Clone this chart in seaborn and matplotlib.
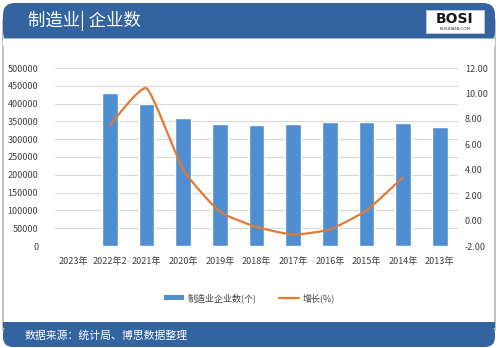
import numpy as np
import pandas as pd
import matplotlib
matplotlib.use("Agg")
import matplotlib.pyplot as plt
from matplotlib.path import Path
from matplotlib.patches import PathPatch, FancyBboxPatch, Rectangle
from matplotlib.lines import Line2D
import seaborn as sns

# ---- data ----
categories = ["2023年", "2022年2", "2021年", "2020年", "2019年", "2018年",
              "2017年", "2016年", "2015年", "2014年", "2013年"]
firms = [np.nan, 430000, 399000, 360000, 343000, 340000, 343000, 347000, 347000, 345000, 334000]
growth_cats = ["2022年2", "2021年", "2020年", "2019年", "2018年", "2017年", "2016年", "2015年", "2014年"]
growth = [7.5, 10.4, 4.0, 0.7, -0.5, -1.1, -0.7, 0.8, 3.4]
left_ticks = [0, 50000, 100000, 150000, 200000, 250000, 300000, 350000, 400000, 450000, 500000]
right_ticks = [-2, 0, 2, 4, 6, 8, 10, 12]
title = "制造业| 企业数"
bar_label = "制造业企业数(个)"
line_label = "增长(%)"
source = "数据来源：统计局、博思数据整理"

sns.set_theme(style="white")
plt.rcParams["font.family"] = ["Noto Sans CJK SC", "DejaVu Sans"]

BAR = "#4f8fd1"
LINE = "#e07a35"
HEAD = "#33649f"
TXT = "#404040"

W, H = 499, 348
fig = plt.figure(figsize=(W / 100, H / 100), dpi=100)
fig.patch.set_facecolor("white")

# frame / header / footer
bg = fig.add_axes([0, 0, 1, 1], zorder=-5)
bg.set_xlim(0, W); bg.set_ylim(H, 0); bg.axis("off")
bg.add_patch(Rectangle((3, 20), 492, 310, facecolor="white", edgecolor="#b8b8b8", lw=1.2))
bg.add_patch(FancyBboxPatch((3, 3), 492, 40, boxstyle="round,pad=0,rounding_size=12",
                            facecolor=HEAD, edgecolor="none"))
bg.add_patch(Rectangle((3, 38), 492, 8, facecolor="white", edgecolor="none"))
bg.add_patch(Rectangle((3, 38), 492, 0.8, facecolor="#9fb6d3", edgecolor="none"))
bg.add_patch(FancyBboxPatch((3, 324), 492, 23, boxstyle="round,pad=0,rounding_size=10",
                            facecolor=HEAD, edgecolor="none"))
bg.add_patch(Rectangle((3, 322), 492, 6, facecolor=HEAD, edgecolor="none"))
bg.text(28, 21, title, color="white", fontsize=12.5, va="center", ha="left")
bg.text(25, 336, source, color="white", fontsize=7.8, va="center", ha="left")
# logo
bg.add_patch(Rectangle((426, 10), 58, 23, facecolor="white", edgecolor="#cccccc", lw=0.6))
bg.text(455, 19, "BOSI", color="#1a1a1a", fontsize=10, fontweight="bold",
        va="center", ha="center", family="DejaVu Sans")
bg.text(455, 29, "BOSIDATA.COM", color="#333333", fontsize=3, va="center", ha="center",
        family="DejaVu Sans")

# main axes
ax = fig.add_axes([55 / W, 1 - 246 / H, 403 / W, 178 / H])
df = pd.DataFrame({"cat": categories, "firms": firms})
sns.barplot(data=df, x="cat", y="firms", order=categories, color=BAR, width=0.43,
            saturation=1, ax=ax)
ax.set_ylim(0, 500000)
ax.set_xlim(-0.5, len(categories) - 0.5)
ax.set_yticks(left_ticks)
ax.set_yticklabels([str(v) for v in left_ticks])
ax.set_xlabel(""); ax.set_ylabel("")
ax.grid(axis="y", color="#d9d9d9", lw=0.8)
ax.set_axisbelow(True)
for s in ax.spines.values():
    s.set_visible(False)
ax.tick_params(axis="y", length=0, pad=12, labelsize=6.5, labelcolor=TXT)
ax.tick_params(axis="x", length=0, pad=8, labelsize=6.5, labelcolor=TXT)
ax.patch.set_alpha(0)

ax2 = ax.twinx()
ax2.set_ylim(-2, 12)
ax2.set_yticks(right_ticks)
ax2.set_yticklabels([f"{v:.2f}" for v in right_ticks])
ax2.tick_params(axis="y", length=0, pad=5, labelsize=6.5, labelcolor=TXT)
for s in ax2.spines.values():
    s.set_visible(False)

# smoothed line (low-tension Catmull-Rom -> Bezier) through the data points
xs = np.array([categories.index(c) for c in growth_cats], dtype=float)
ys = np.array(growth, dtype=float)
P = np.column_stack([xs, ys])
k = 0.5 / 6
verts = [tuple(P[0])]
codes = [Path.MOVETO]
n = len(P)
for i in range(n - 1):
    p0 = P[i - 1] if i > 0 else P[i]
    p1, p2 = P[i], P[i + 1]
    p3 = P[i + 2] if i + 2 < n else P[i + 1]
    c1 = p1 + (p2 - p0) * k
    c2 = p2 - (p3 - p1) * k
    verts += [tuple(c1), tuple(c2), tuple(p2)]
    codes += [Path.CURVE4] * 3
ax2.add_patch(PathPatch(Path(verts, codes), facecolor="none", edgecolor=LINE, lw=1.6,
                        capstyle="round", joinstyle="round"))

# legend
handles = [Rectangle((0, 0), 1, 1, facecolor=BAR, edgecolor="none"),
           Line2D([0], [0], color=LINE, lw=1.6)]
fig.legend(handles, [bar_label, line_label], loc="center", bbox_to_anchor=(0.5, 1 - 298 / H),
           ncol=2, frameon=False, fontsize=6.5, handlelength=2.2, handleheight=0.5,
           columnspacing=2.5, handletextpad=0.4, labelcolor=TXT)

fig.savefig("out.png", dpi=100)
